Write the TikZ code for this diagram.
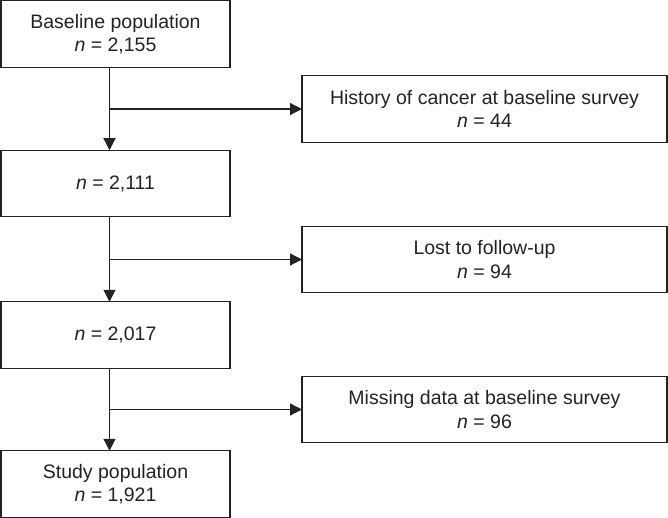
\documentclass[tikz,border=0pt]{standalone}
\usepackage{fontspec}
\setmainfont{Liberation Sans}
\usepackage{tikz}
\usetikzlibrary{arrows.meta, positioning}
\definecolor{boxline}{RGB}{35, 35, 35}

\begin{document}
\begin{tikzpicture}[
    x=1pt, y=1pt,
    node distance=83pt,
    stage/.style={rectangle, draw=boxline, line width=1.3pt, outer sep=0pt, inner sep=0pt, minimum width=229pt, minimum height=66.5pt, align=center, text=boxline, font=\fontsize{19.5}{23.5}\selectfont},
    excl/.style={stage, minimum width=365pt},
    flow/.style={-{Triangle[length=12pt, width=12pt]}, line width=1.2pt, draw=boxline}
]
\useasboundingbox (0,0) rectangle (668,-518);

\node[stage] (base) at (115.5,-34) {Baseline population\\\textit{n} = 2,155};
\node[stage, below=83pt of base] (first) {\textit{n} = 2,111};
\node[stage, below=85pt of first] (second) {\textit{n} = 2,017};
\node[stage, below=82.5pt of second] (study) {Study population\\\textit{n} = 1,921};

\node[excl, below right=8.5pt and 72pt of base] (cancer) {History of cancer at baseline survey\\\textit{n} = 44};
\node[excl, below=84pt of cancer] (lost) {Lost to follow-up\\\textit{n} = 94};
\node[excl, below=83.5pt of lost] (missing) {Missing data at baseline survey\\\textit{n} = 96};

% main flow
\draw[flow] ([xshift=-6pt]base.south) -- ([xshift=-6pt]first.north);
\draw[flow] ([xshift=-6pt]first.south) -- ([xshift=-6pt]second.north);
\draw[flow] ([xshift=-6pt]second.south) -- ([xshift=-6pt]study.north);

% exclusions
\draw[flow] ([xshift=-6pt]base.south |- cancer.west) -- (cancer.west);
\draw[flow] ([xshift=-6pt]first.south |- lost.west) -- (lost.west);
\draw[flow] ([xshift=-6pt]second.south |- missing.west) -- (missing.west);
\end{tikzpicture}
\end{document}
